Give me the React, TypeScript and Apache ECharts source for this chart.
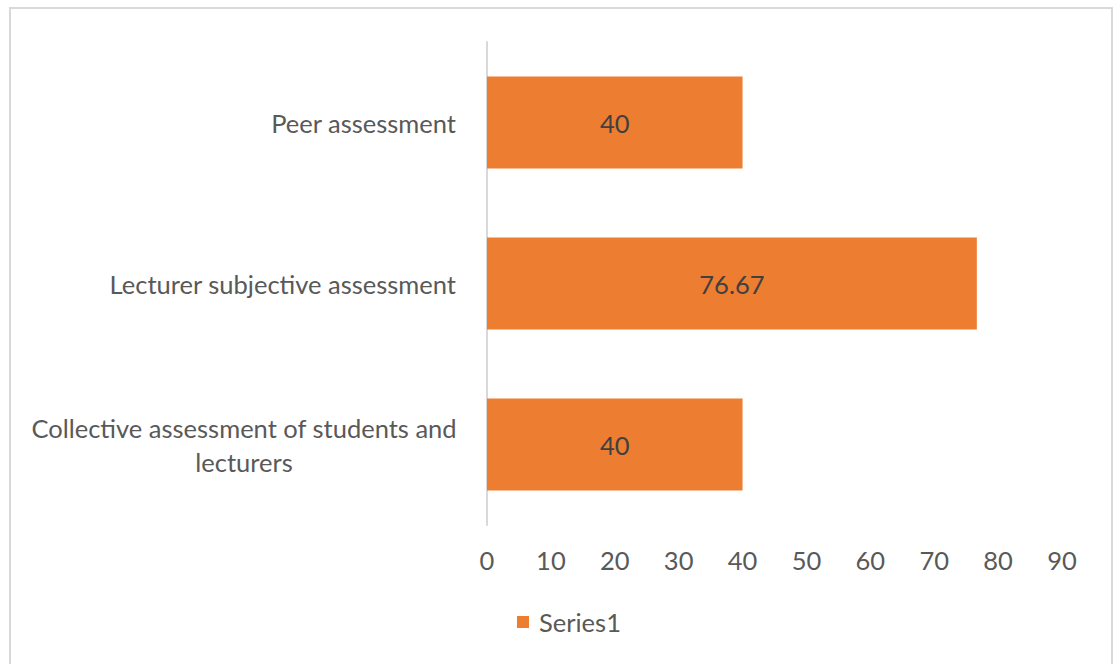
import React, { useEffect, useRef } from "react";
import * as echarts from "echarts";

const categories = [
  "Collective assessment of students and lecturers",
  "Lecturer subjective assessment",
  "Peer assessment",
];
const values = [40, 76.67, 40];
const seriesName = "Series1";
const xTicks = { min: 0, max: 90, interval: 10 };

export default function App() {
  const ref = useRef<HTMLDivElement>(null);
  useEffect(() => {
    if (!ref.current) return;
    const chart = echarts.init(ref.current, null, { renderer: "svg" });
    const font = "Lato, 'Open Sans', sans-serif";
    const fs = 25.5;
    const col = "#595959";
    chart.setOption({
      animation: false,
      backgroundColor: "#ffffff",
      textStyle: { fontFamily: font },
      graphic: [
        {
          type: "rect",
          shape: { x: 10, y: 8, width: 1102, height: 664 },
          style: { fill: "none", stroke: "#d9d9d9", lineWidth: 2 },
          silent: true,
        },
      ],
      grid: { left: 487, right: 53, top: 42, bottom: 139, containLabel: false },
      legend: {
        bottom: 24,
        left: 512,
        icon: "rect",
        itemWidth: 12,
        itemHeight: 12,
        itemGap: 8,
        textStyle: { fontSize: fs, color: col, fontFamily: font, padding: [0, 0, 0, 5] },
        data: [seriesName],
      },
      xAxis: {
        type: "value",
        min: xTicks.min,
        max: xTicks.max,
        interval: xTicks.interval,
        axisLine: { show: false },
        axisTick: { show: false },
        splitLine: { show: false },
        axisLabel: { fontSize: fs, color: col, margin: 22, fontFamily: font },
      },
      yAxis: {
        type: "category",
        data: categories,
        axisLine: { show: true, lineStyle: { color: "#d9d9d9", width: 2 } },
        axisTick: { show: false },
        axisLabel: {
          margin: 31,
          fontSize: fs,
          color: col,
          fontFamily: font,
          formatter: (v: string) => {
            if (v === categories[0]) {
              return "{c|Collective assessment of students and\nlecturers}";
            }
            return "{n|" + v + "}";
          },
          rich: {
            c: {
              fontSize: fs,
              color: col,
              fontFamily: font,
              lineHeight: 34,
              width: 424,
              align: "center",
            },
            n: { fontSize: fs, color: col, fontFamily: font },
          },
        },
      },
      series: [
        {
          name: seriesName,
          type: "bar",
          data: values,
          barCategoryGap: "43%",
          itemStyle: { color: "#ED7D31" },
          label: {
            show: true,
            position: "inside",
            fontSize: fs,
            color: "#404040",
            fontFamily: font,
          },
        },
      ],
    });
    return () => chart.dispose();
  }, []);
  return (
    <div
      ref={ref}
      style={{ position: "fixed", left: 0, top: 0, width: 1115, height: 664 }}
    />
  );
}
